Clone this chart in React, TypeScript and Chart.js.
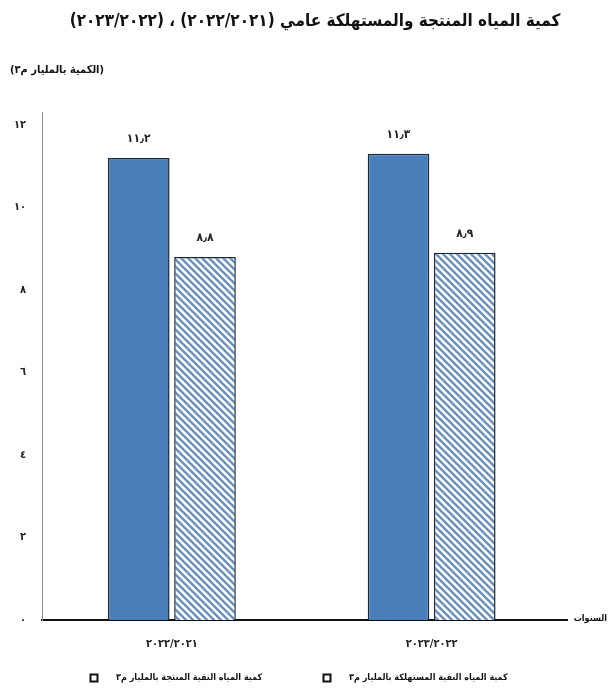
import React, { useEffect, useRef } from "react";
import { Chart, registerables } from "chart.js";

Chart.register(...registerables);

const titleText = "كمية المياه المنتجة والمستهلكة عامي (٢٠٢٢/٢٠٢١) ، (٢٠٢٣/٢٠٢٢)";
const unitText = "(الكمية بالمليار م٣)";
const xAxisTitle = "السنوات";
const categories = ["٢٠٢٢/٢٠٢١", "٢٠٢٣/٢٠٢٢"];
const seriesNames = [
  "كمية المياه النقية المنتجة بالمليار م٣",
  "كمية المياه النقية المستهلكة بالمليار م٣",
];
const producedValues = [11.2, 11.3];
const consumedValues = [8.8, 8.9];
const yMin = 0;
const yMax = 12.3;
const yStep = 2;

const FONT = "'DejaVu Sans Condensed', 'DejaVu Sans', sans-serif";
const arabicDigits = "٠١٢٣٤٥٦٧٨٩";
const toArabic = (v: number | string) =>
  String(v)
    .replace(/[0-9]/g, (d) => arabicDigits[Number(d)])
    .replace(".", "٫");

function makeHatch(): CanvasPattern | string {
  const size = 7;
  const c = document.createElement("canvas");
  c.width = size;
  c.height = size;
  const g = c.getContext("2d");
  if (!g) return "#ffffff";
  g.fillStyle = "#ffffff";
  g.fillRect(0, 0, size, size);
  g.strokeStyle = "#6a90bd";
  g.lineWidth = 2.4;
  g.beginPath();
  g.moveTo(-1, -1);
  g.lineTo(size + 1, size + 1);
  g.moveTo(-1, size - 1);
  g.lineTo(1, size + 1);
  g.moveTo(size - 1, -1);
  g.lineTo(size + 1, 1);
  g.stroke();
  const p = g.createPattern(c, "repeat");
  return p || "#ffffff";
}

const decorPlugin = {
  id: "decor",
  afterDatasetsDraw(chart: any) {
    const ctx = chart.ctx as CanvasRenderingContext2D;
    ctx.save();
    ctx.fillStyle = "#222";
    ctx.font = `bold 12px ${FONT}`;
    ctx.textAlign = "center";
    ctx.textBaseline = "middle";
    chart.data.datasets.forEach((ds: any, i: number) => {
      const meta = chart.getDatasetMeta(i);
      meta.data.forEach((bar: any, j: number) => {
        ctx.fillText(toArabic(ds.data[j]), bar.x, bar.y - 19);
      });
    });
    ctx.restore();
  },
  afterDraw(chart: any) {
    const ctx = chart.ctx as CanvasRenderingContext2D;
    const area = chart.chartArea;
    ctx.save();
    (ctx as any).direction = "rtl";
    ctx.fillStyle = "#111";
    ctx.textBaseline = "middle";
    // title
    ctx.font = `bold 17px ${FONT}`;
    ctx.textAlign = "center";
    ctx.fillText(titleText, 315, 22);
    // unit
    ctx.font = `bold 11px ${FONT}`;
    ctx.textAlign = "left";
    ctx.fillText(unitText, 10, 70);
    // x axis title
    ctx.font = `bold 9px ${FONT}`;
    ctx.textAlign = "right";
    ctx.fillText(xAxisTitle, 607, area.bottom - 1);
    // axis extension
    ctx.strokeStyle = "#111";
    ctx.lineWidth = 2;
    ctx.beginPath();
    ctx.moveTo(area.right - 1, area.bottom);
    ctx.lineTo(568, area.bottom);
    ctx.stroke();
    // legend
    const markers = [94, 327];
    const ly = 678;
    chart.data.datasets.forEach((ds: any, i: number) => {
      const mx = markers[i];
      ctx.fillStyle = "#ffffff";
      ctx.fillRect(mx - 3.5, ly - 3.5, 7, 7);
      ctx.strokeStyle = "#111";
      ctx.lineWidth = 2;
      ctx.strokeRect(mx - 3.5, ly - 3.5, 7, 7);
      ctx.fillStyle = "#111";
      ctx.font = `bold 9px ${FONT}`;
      ctx.textAlign = "left";
      ctx.fillText(ds.label, mx + 22, ly);
    });
    ctx.restore();
  },
};

export default function App() {
  const ref = useRef<HTMLCanvasElement | null>(null);

  useEffect(() => {
    if (!ref.current) return;
    const hatch = makeHatch();
    const chart = new Chart(ref.current, {
      type: "bar",
      data: {
        labels: categories,
        datasets: [
          {
            label: seriesNames[0],
            data: producedValues,
            backgroundColor: "#4a7ebb",
            borderColor: "#1b2838",
            borderWidth: 1.5,
            categoryPercentage: 0.51,
            barPercentage: 0.93,
          },
          {
            label: seriesNames[1],
            data: consumedValues,
            backgroundColor: hatch as any,
            borderColor: "#1b2838",
            borderWidth: 1.5,
            categoryPercentage: 0.51,
            barPercentage: 0.93,
          },
        ],
      },
      options: {
        animation: false,
        responsive: true,
        maintainAspectRatio: false,
        layout: { padding: { top: 112.6, left: 0, right: 51.5, bottom: 0 } },
        plugins: {
          legend: { display: false },
          title: { display: false },
          tooltip: { enabled: false },
        },
        scales: {
          x: {
            grid: { display: false, drawTicks: false },
            border: { display: true, color: "#111", width: 2 },
            ticks: {
              color: "#222",
              font: { family: FONT, size: 11, weight: "bold" },
              padding: 18,
            },
            afterFit: (s: any) => {
              s.height = 71;
            },
          },
          y: {
            min: yMin,
            max: yMax,
            grid: { display: false, drawTicks: false },
            border: { display: true, color: "#8c8c8c", width: 1 },
            ticks: {
              stepSize: yStep,
              includeBounds: false,
              color: "#222",
              font: { family: FONT, size: 11, weight: "bold" },
              padding: 16,
              callback: (v: any) => toArabic(v),
            },
            afterFit: (s: any) => {
              s.width = 42;
            },
          },
        },
      },
      plugins: [decorPlugin],
    });
    return () => chart.destroy();
  }, []);

  return (
    <div style={{ position: "fixed", left: 0, top: 0, width: 613, height: 691, background: "#fff" }}>
      <canvas ref={ref} />
    </div>
  );
}
